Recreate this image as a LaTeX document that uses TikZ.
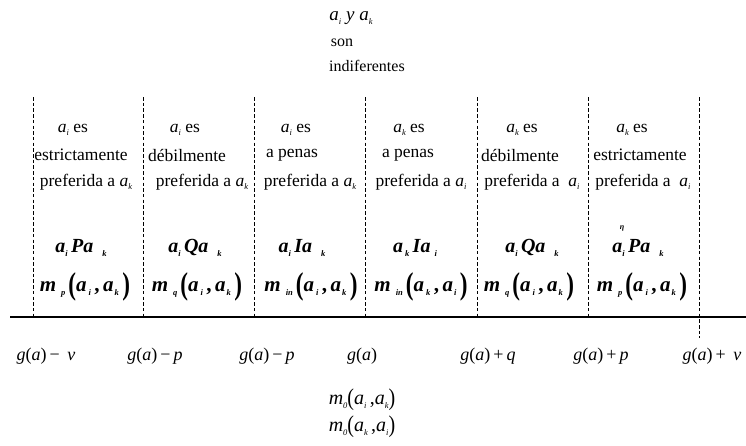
\documentclass[tikz,border=0pt]{standalone}
\usepackage{fontspec}
\setmainfont{Liberation Serif}
\newcommand\sbx[1]{\raisebox{-0.45ex}{\fontsize{8.5}{9}\selectfont\itshape #1}}
\newcommand\va[1]{\textit{a}\sbx{#1}}
\newcommand\bpar[1]{\raisebox{-0.35ex}{\scalebox{1.1}[1.5]{#1}}}
\newcommand\mpar[1]{\raisebox{-0.15ex}{\scalebox{1}[1.2]{#1}}}
\tikzset{
  txt/.style={inner sep=0pt, font=\fontsize{17.5}{20}\selectfont},
  toptxt/.style={inner sep=0pt, font=\fontsize{16}{18}\selectfont},
  rel/.style={inner sep=0pt, font=\fontsize{20}{22}\selectfont\bfseries},
  mrow/.style={inner sep=0pt, font=\fontsize{21}{22}\selectfont\bfseries},
  lab/.style={inner sep=0pt, font=\fontsize{18}{20}\selectfont},
  mzero/.style={inner sep=0pt, font=\fontsize{20}{22}\selectfont},
  sep/.style={line width=0.6pt, dash pattern=on 3.5pt off 2.2pt},
  axis/.style={line width=1.3pt}
}
\begin{document}
\begin{tikzpicture}[x=1pt,y=-1pt]
\useasboundingbox (0,0) rectangle (746,445);
% top text
\node[toptxt, font=\fontsize{19}{20}\selectfont] (t1) at (351,18) {\va{i} \textit{y} \va{k}};
\node[toptxt] (t2) at (342,43) {son};
\node[toptxt, anchor=west] (t3) at (329,66) {indiferentes};
% separators
\foreach \n/\x in {1/33,2/143,3/254,4/365,5/477,6/588}{
  \coordinate (s\n t) at (\x,97);
  \coordinate (s\n b) at (\x,317);
  \draw[sep] (s\n t) -- (s\n b);
}
\coordinate (s7t) at (699,97);
\coordinate (s7b) at (699,338);
\draw[sep] (s7t) -- (s7b);
% axis
\coordinate (ax1) at (10,317);
\coordinate (ax2) at (746,317);
\draw[axis] (ax1) -- (ax2);
% column 1
\node[txt] (c1a) at (73,130) {\va{i} es};
\node[txt] (c1b) at (81,155) {estrictamente};
\node[txt] (c1c) at (86,182) {preferida a \va{k}};
\node[rel] (c1d) at (81,248) {\textit{a}\sbx{i}\,\textit{Pa}\hspace{9pt}\sbx{k}};
\node[mrow] (c1e) at (85,287) {\textit{m}\hspace{5pt}\sbx{p}\hspace{3pt}\bpar{(}\textit{a}\hspace{2pt}\sbx{i}\,,\,\textit{a}\hspace{1pt}\sbx{k}\,\bpar{)}};
% column 2
\node[txt] (c2a) at (185,130) {\va{i} es};
\node[txt] (c2b) at (187,155) {débilmente};
\node[txt] (c2c) at (202,182) {preferida a \va{k}};
\node[rel] (c2d) at (195,248) {\textit{a}\sbx{i}\,\textit{Qa}\hspace{9pt}\sbx{k}};
\node[mrow] (c2e) at (197,287) {\textit{m}\hspace{5pt}\sbx{q}\hspace{3pt}\bpar{(}\textit{a}\hspace{2pt}\sbx{i}\,,\,\textit{a}\hspace{1pt}\sbx{k}\,\bpar{)}};
% column 3
\node[txt] (c3a) at (296,130) {\va{i} es};
\node[txt] (c3b) at (292,155) {a penas};
\node[txt] (c3c) at (310,182) {preferida a \va{k}};
\node[rel] (c3d) at (302,248) {\textit{a}\sbx{i}\,\textit{Ia}\hspace{9pt}\sbx{k}};
\node[mrow] (c3e) at (311,287) {\textit{m}\hspace{5pt}\sbx{in}\hspace{3pt}\bpar{(}\textit{a}\hspace{2pt}\sbx{i}\,,\,\textit{a}\hspace{1pt}\sbx{k}\,\bpar{)}};
% column 4
\node[txt] (c4a) at (409,130) {\va{k} es};
\node[txt] (c4b) at (408,155) {a penas};
\node[txt] (c4c) at (421,182) {preferida a \va{i}};
\node[rel] (c4d) at (415,248) {\textit{a}\hspace{2pt}\sbx{k}\,\textit{Ia}\hspace{4pt}\sbx{i}};
\node[mrow] (c4e) at (421,287) {\textit{m}\hspace{5pt}\sbx{in}\hspace{3pt}\bpar{(}\textit{a}\hspace{2pt}\sbx{k}\,,\,\textit{a}\hspace{1pt}\sbx{i}\,\bpar{)}};
% column 5
\node[txt] (c5a) at (522,130) {\va{k} es};
\node[txt] (c5b) at (520,155) {débilmente};
\node[txt] (c5c) at (532,182) {preferida a \ \va{i}};
\node[rel] (c5d) at (532,248) {\textit{a}\sbx{i}\,\textit{Qa}\hspace{9pt}\sbx{k}};
\node[mrow] (c5e) at (529,287) {\textit{m}\hspace{5pt}\sbx{q}\hspace{3pt}\bpar{(}\textit{a}\hspace{2pt}\sbx{i}\,,\,\textit{a}\hspace{1pt}\sbx{k}\,\bpar{)}};
% column 6
\node[txt] (c6a) at (632,130) {\va{k} es};
\node[txt] (c6b) at (640,155) {estrictamente};
\node[txt] (c6c) at (643,182) {preferida a \ \va{i}};
\node[rel] (c6d) at (638,248) {\textit{a}\sbx{i}\,\textit{Pa}\hspace{9pt}\sbx{k}};
\node[inner sep=0pt, font=\fontsize{8}{8}\selectfont\bfseries] (eta) at (622,228) {\textit{η}};
\node[mrow] (c6e) at (642,287) {\textit{m}\hspace{5pt}\sbx{p}\hspace{3pt}\bpar{(}\textit{a}\hspace{2pt}\sbx{i}\,,\,\textit{a}\hspace{1pt}\sbx{k}\,\bpar{)}};
% axis labels
\node[lab] (g1) at (46,356) {\textit{g}(\textit{a})\,−\, \textit{ν}};
\node[lab] (g2) at (155,356) {\textit{g}(\textit{a})\,−\,\textit{p}};
\node[lab] (g3) at (267,356) {\textit{g}(\textit{a})\,−\,\textit{p}};
\node[lab] (g4) at (362,356) {\textit{g}(\textit{a})};
\node[lab] (g5) at (488,356) {\textit{g}(\textit{a})\,+\,\textit{q}};
\node[lab] (g6) at (601,356) {\textit{g}(\textit{a})\,+\,\textit{p}};
\node[lab] (g7) at (712,356) {\textit{g}(\textit{a})\,+\, \textit{ν}};
% bottom
\node[mzero] (m1) at (362,400) {\textit{m}\sbx{0}\mpar{(}\textit{a}\sbx{i}\,,\textit{a}\sbx{k}\mpar{)}};
\node[mzero] (m2) at (362,427) {\textit{m}\sbx{0}\mpar{(}\textit{a}\sbx{k}\,,\textit{a}\sbx{i}\mpar{)}};
\end{tikzpicture}
\end{document}
